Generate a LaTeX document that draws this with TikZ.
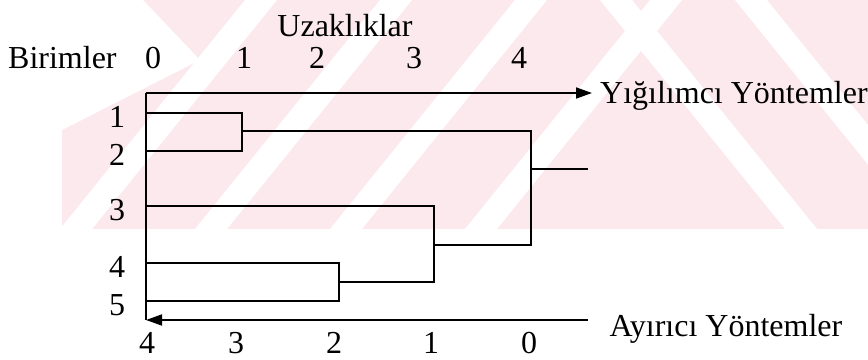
\documentclass[tikz,border=0pt]{standalone}
\usepackage{fontspec}
\setmainfont{Liberation Serif}
\usetikzlibrary{arrows.meta}
\definecolor{wmpink}{RGB}{252,233,238}
\tikzset{
  ax/.style={line width=1.8pt},
  link/.style={line width=1.3pt},
  lbl/.style={inner sep=0pt, font=\fontsize{32}{38}\selectfont},
}

\begin{document}
\begin{tikzpicture}[x=1pt, y=-1pt, >={Triangle[length=16pt,width=11pt]}]
\useasboundingbox (0,0) rectangle (868,359);
% filigran
\begin{scope}
  \clip (62,0) rectangle (868,229);
  \fill[wmpink] (62,0) rectangle (868,229);
  \foreach \s in {0,...,3}
  {
    \fill[white] (60+\s*135,229) -- ++(32,0) -- ++(185,-229) -- ++(-32,0) -- cycle;
  }
  \foreach \s in {0,...,2}
  {
    \fill[white] (600+\s*135,0) -- ++(32,0) -- ++(185,229) -- ++(-32,0) -- cycle;
  }
  \fill[white] (62,0) -- (143,0) -- (200,60) -- (62,130) -- cycle;
\end{scope}

% basliklar
\node[lbl, anchor=base] (uz) at (345,36) {Uzaklıklar};
\node[lbl, anchor=base west] (bir) at (8,68) {Birimler};
\foreach \u/\x in {0/153,1/244,2/317,3/414,4/519}
{
    \node[lbl, anchor=base] (u\u) at (\x,68) {\u};
}
\foreach \a/\x in {4/147,3/236,2/334,1/431,0/529}
{
    \node[lbl, anchor=base] (a\a) at (\x,353) {\a};
}
\node[lbl, anchor=base west] (yig) at (600,103) {Yığılımcı Yöntemler};
\node[lbl, anchor=base] (ayr) at (726,336) {Ayırıcı Yöntemler};

% birimler
\foreach \b/\y in {1/113,2/151,3/206,4/263,5/301}
{
    \node[lbl] (b\b) at (117,\y+4) {\b};
    \coordinate (l\b) at (146,\y);
}

% eksenler
\coordinate (o) at (146,93);
\coordinate (ob) at (146,320);
\coordinate (yt) at (592,93);
\coordinate (ab) at (588,320);
\draw[ax, ->] (o) -- (yt);
\draw[ax] (o) -- (ob);
\draw[ax, ->] (ab) -- (ob);

% dendrogram
\coordinate (m12) at (242,131);
\coordinate (m45) at (339,282);
\coordinate (m345) at (434,245);
\coordinate (mall) at (531,169);
\coordinate (root) at (588,169);
\draw[link] (l1) -| (m12) |- (l2);
\draw[link] (l4) -| (m45) |- (l5);
\draw[link] (l3) -| (m345) |- (m45);
\draw[link] (m12) -| (mall) |- (m345);
\draw[link] (mall) -- (root);
\end{tikzpicture}
\end{document}
